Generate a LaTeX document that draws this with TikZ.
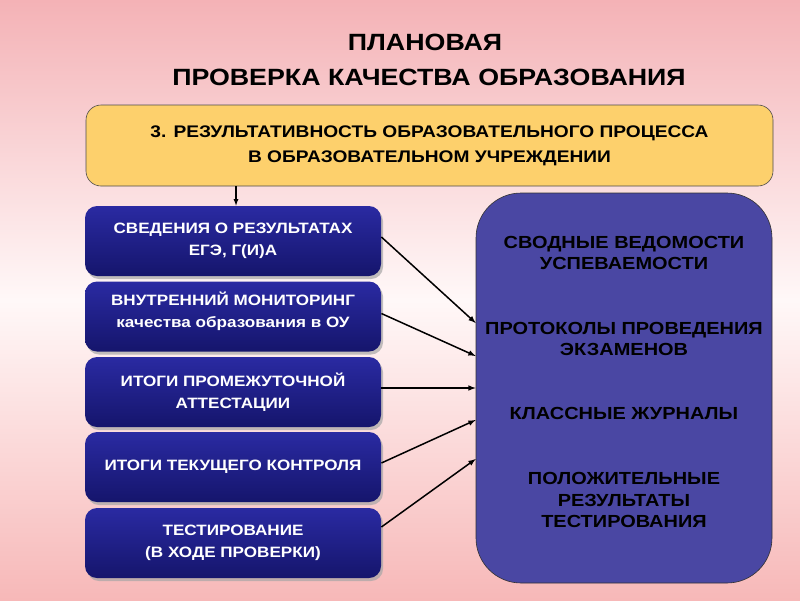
\documentclass[tikz,border=0pt]{standalone}
\usepackage{fontspec}
\setmainfont{Liberation Sans}[FakeStretch=1.14]
\usetikzlibrary{arrows, shadows, calc}

\definecolor{bgpink}{HTML}{F4B2B6}
\definecolor{bglight}{HTML}{FFF8F8}
\definecolor{bgpinkb}{HTML}{F7B8B8}
\definecolor{yellowbox}{HTML}{FDD06C}
\definecolor{navytop}{HTML}{2A2AA2}
\definecolor{navybot}{HTML}{15156C}
\definecolor{slatebox}{HTML}{4A47A3}

\begin{document}
\begin{tikzpicture}[>=latex, thick, x=1pt, y=-1pt,
    titletext/.style={font=\bfseries\fontsize{23.5}{28}\selectfont},
    headbox/.style={draw=black!70, line width=0.6pt, rounded corners=15pt, fill=yellowbox,
        minimum width=687pt, minimum height=81pt, align=center,
        font=\bfseries\fontsize{16.8}{25}\selectfont},
    leftbox/.style={rounded corners=12pt, top color=navytop, bottom color=navybot,
        minimum width=296pt, minimum height=70pt, text=white, align=center,
        font=\bfseries\fontsize{15}{21.5}\selectfont,
        drop shadow={shadow xshift=2pt, shadow yshift=-3pt, fill=black!35, opacity=.7}},
    rightbox/.style={draw=black!80, line width=0.6pt, rounded corners=45pt, fill=slatebox,
        minimum width=296pt, minimum height=390pt},
    righttext/.style={align=center, font=\bfseries\fontsize{17.5}{21.5}\selectfont},
    link/.style={->, line width=1.5pt}]

    \fill[top color=bgpink, bottom color=bgpinkb, middle color=bglight] (0,0) rectangle (800,600);

    \node[titletext] (plan) at (425,42) {ПЛАНОВАЯ};
    \node[titletext] (check) at (429,77) {ПРОВЕРКА КАЧЕСТВА ОБРАЗОВАНИЯ};

    \node[headbox] (res) at (429.5,145.5) {3. РЕЗУЛЬТАТИВНОСТЬ ОБРАЗОВАТЕЛЬНОГО ПРОЦЕССА\\В ОБРАЗОВАТЕЛЬНОМ УЧРЕЖДЕНИИ};

    \node[leftbox] (ege) at (233,241) {СВЕДЕНИЯ О РЕЗУЛЬТАТАХ\\ЕГЭ, Г(И)А};
    \node[leftbox] (mon) at (233,316.5) {ВНУТРЕННИЙ МОНИТОРИНГ\\качества образования в ОУ\\[-8pt]\mbox{}};
    \node[leftbox] (att) at (233,392) {ИТОГИ ПРОМЕЖУТОЧНОЙ\\АТТЕСТАЦИИ};
    \node[leftbox] (cur) at (233,467) {ИТОГИ ТЕКУЩЕГО КОНТРОЛЯ};
    \node[leftbox] (test) at (233,543) {ТЕСТИРОВАНИЕ\\(В ХОДЕ ПРОВЕРКИ)};

    \node[rightbox] (docs) at (624,388) {};
    \node[righttext] (svod) at (624,253) {СВОДНЫЕ ВЕДОМОСТИ\\УСПЕВАЕМОСТИ};
    \node[righttext] (prot) at (624,339) {ПРОТОКОЛЫ ПРОВЕДЕНИЯ\\ЭКЗАМЕНОВ};
    \node[righttext] (jour) at (624,413) {КЛАССНЫЕ ЖУРНАЛЫ};
    \node[righttext] (pos) at (624,500) {ПОЛОЖИТЕЛЬНЫЕ\\РЕЗУЛЬТАТЫ\\ТЕСТИРОВАНИЯ};

    \draw[->, line width=1.2pt] (res.south -| 236,0) -- (ege.north -| 236,0);

    \draw[link] ([yshift=4pt]ege.east) -- (docs.west |- 0,323);
    \draw[link] ([yshift=3pt]mon.east) -- (docs.west |- 0,356);
    \draw[link] ([yshift=4pt]att.east) -- (docs.west |- 0,388);
    \draw[link] ([yshift=4pt]cur.east) -- (docs.west |- 0,420);
    \draw[link] ([yshift=16pt]test.east) -- (docs.west |- 0,459);
\end{tikzpicture}
\end{document}
